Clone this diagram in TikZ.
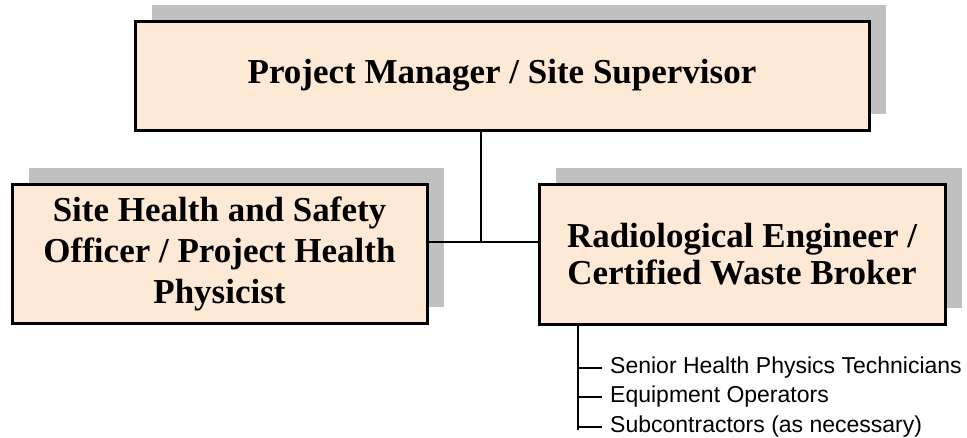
\documentclass[tikz,border=0pt]{standalone}
\usepackage{fontspec}
\setmainfont{Liberation Serif}
\setsansfont{Liberation Sans}
\usetikzlibrary{positioning,shadows}

\definecolor{boxfill}{RGB}{254,233,215}
\definecolor{shadowgray}{RGB}{192,192,192}

\begin{document}
\begin{tikzpicture}[x=1pt,y=-1pt,
  role/.style={draw, line width=3pt, fill=boxfill, align=center,
    font=\fontsize{35}{37}\selectfont\bfseries,
    drop shadow={shadow xshift=17pt, shadow yshift=16pt, fill=shadowgray, opacity=1}},
  item/.style={inner xsep=8pt, inner ysep=0pt, text height=16pt, text depth=5pt,
    font=\fontsize{23}{26}\selectfont\sffamily},
  link/.style={line width=2pt}]
\useasboundingbox (0,0) rectangle (967,437);

% the three boxes
\node[role, minimum width=734pt, minimum height=109pt] (pm) at (502,75.5) {Project Manager / Site Supervisor};
\node[role, minimum width=415pt, minimum height=139pt,
  font=\fontsize{35}{41}\selectfont\bfseries] (hso) at (219.5,253.5) {Site Health and Safety\\Officer / Project Health\\Physicist};
\node[role, minimum width=406pt, minimum height=140pt] (reb) at (742,254) {Radiological Engineer /\\Certified Waste Broker};

\coordinate (hub) at (481,242);
\draw[link] (pm.south -| hub) -- (hub);
\draw[link] (hso.east |- hub) -- (reb.west |- hub);

% staff under the engineer
\coordinate (stem) at (578,430);
\node[item, anchor=west] (tech) at (602,368) {Senior Health Physics Technicians};
\node[item, below=8pt of tech.south west, anchor=north west] (ops) {Equipment Operators};
\node[item, below=8pt of ops.south west, anchor=north west] (subs) {Subcontractors (as necessary)};

\draw[link] (reb.south -| stem) -- (stem);
\foreach \n in {tech,ops,subs}
  \draw[link] (stem |- \n.west) -- (\n.west);
\end{tikzpicture}
\end{document}
